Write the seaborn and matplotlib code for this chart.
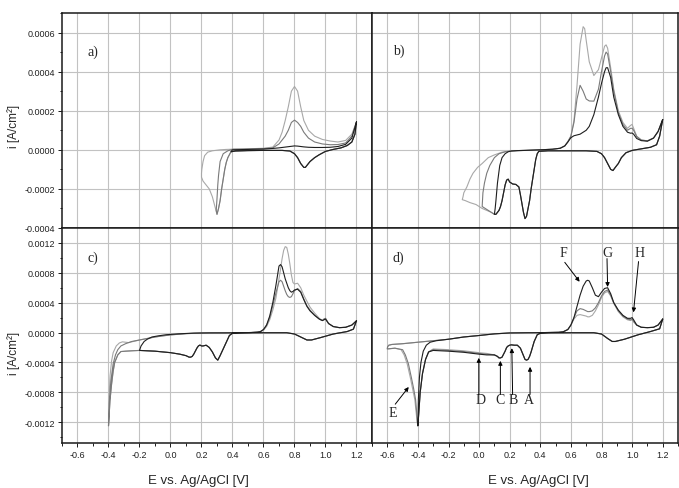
import matplotlib

matplotlib.use("Agg")
import matplotlib.pyplot as plt
import seaborn as sns
from matplotlib.ticker import FormatStrFormatter, MultipleLocator

# ---------------- panel a) ----------------
a_down_E = [1.20, 1.19, 1.17, 1.14, 1.10, 1.05, 1.00, 0.96, 0.93, 0.90, 0.88, 0.87, 0.86,
            0.84, 0.82, 0.80, 0.77, 0.72, 0.60, 0.50, 0.42, 0.39, 0.37, 0.36, 0.35, 0.34,
            0.33, 0.32, 0.31, 0.30]
a_down_i = [0.000143, 0.00008, 0.00004, 0.000022, 0.00001, 0.000002, -0.000008, -0.000025,
            -0.00004, -0.00006, -0.00008, -0.00009, -0.00009, -0.00007, -0.00004, -0.00002,
            -0.000006, -0.000003, -0.000003, -0.000004, -0.000006, -0.00001, -0.00004,
            -0.000064, -0.0001, -0.00015, -0.0002, -0.00026, -0.0003, -0.00033]
a_light_ret_E = [0.29, 0.28, 0.27, 0.25, 0.23, 0.21, 0.20, 0.20, 0.202, 0.21, 0.22, 0.24,
                 0.27, 0.32, 0.36]
a_light_ret_i = [-0.0003, -0.00027, -0.00024, -0.0002, -0.00018, -0.00016, -0.00014,
                 -0.00012, -0.0001, -0.00006, -0.00003, -0.000012, -0.000005, 0.0, 0.000002]
a_mid_ret_E = [0.295, 0.30, 0.305, 0.31, 0.32, 0.34, 0.37]
a_mid_ret_i = [-0.00031, -0.00025, -0.00018, -0.00013, -0.00006, -0.00002, -0.000005]
a_up_E = [0.40, 0.50, 0.60, 0.66, 0.70, 0.72, 0.74, 0.76, 0.78, 0.80, 0.82, 0.84, 0.86,
          0.89, 0.93, 0.98, 1.03, 1.08, 1.13, 1.17, 1.20]
a_light_up = [0.000003, 0.000005, 0.000008, 0.000014, 0.00005, 0.00009, 0.00015, 0.00022,
              0.0003, 0.000324, 0.0003, 0.00022, 0.00015, 0.0001, 0.00007, 0.000053,
              0.000045, 0.00004, 0.000048, 0.00008, 0.000143]
a_mid_up = [0.000003, 0.000004, 0.000006, 0.00001, 0.00003, 0.00005, 0.00007, 0.0001,
            0.00014, 0.000152, 0.00014, 0.00012, 0.00009, 0.00006, 0.00004, 0.00003,
            0.000026, 0.000027, 0.000035, 0.00007, 0.000143]
a_black_up = [0.0, 0.000002, 0.000004, 0.000007, 0.00001, 0.000012, 0.000014, 0.000016,
              0.000018, 0.00002, 0.000019, 0.000017, 0.000015, 0.000013, 0.000012,
              0.000012, 0.000013, 0.000017, 0.000028, 0.00006, 0.000143]
a_black_low = 0.39

# ---------------- panel b) ----------------
b_down_E = [1.20, 1.18, 1.16, 1.12, 1.06, 1.00, 0.96, 0.93, 0.91, 0.89, 0.875, 0.86, 0.84,
            0.82, 0.80, 0.77, 0.70, 0.55, 0.45, 0.39, 0.38, 0.37, 0.36, 0.35, 0.34, 0.33,
            0.32, 0.31, 0.30, 0.29, 0.28, 0.27, 0.26, 0.24, 0.22, 0.20, 0.19, 0.18, 0.17,
            0.16, 0.15, 0.14, 0.13, 0.12, 0.11]
b_down_i = [0.000155, 0.00007, 0.000026, 0.000013, 0.000005, -0.000003, -0.000015, -0.00004,
            -0.00007, -0.00009, -0.000106, -0.0001, -0.00007, -0.00004, -0.00002, -0.000008,
            -0.000005, -0.000005, -0.000005, -0.000008, -0.00002, -0.00005, -0.0001,
            -0.00015, -0.0002, -0.00026, -0.0003, -0.00034, -0.000352, -0.00032, -0.000275,
            -0.00023, -0.00019, -0.000177, -0.000175, -0.000165, -0.00015, -0.000155,
            -0.00018, -0.00022, -0.00026, -0.00029, -0.00031, -0.00032, -0.00033]
b_light_ret_E = [0.10, 0.08, 0.05, 0.02, -0.02, -0.06, -0.09, -0.11, -0.105, -0.10, -0.08,
                 -0.06, -0.04, -0.01, 0.02, 0.06, 0.10, 0.15, 0.20, 0.25]
b_light_ret_i = [-0.00033, -0.00032, -0.00031, -0.0003, -0.00028, -0.00027, -0.00026,
                 -0.000255, -0.00024, -0.00022, -0.00019, -0.00015, -0.00012, -0.00009,
                 -0.00007, -0.00004, -0.000026, -0.000012, -0.000006, -0.000004]
b_mid_ret_E = [0.10, 0.08, 0.06, 0.04, 0.02, 0.025, 0.035, 0.05, 0.07, 0.10, 0.13, 0.17,
               0.22, 0.26]
b_mid_ret_i = [-0.00033, -0.00032, -0.00031, -0.0003, -0.00029, -0.00022, -0.00017,
               -0.00012, -0.00008, -0.00004, -0.00002, -0.00001, -0.000006, -0.000004]
b_black_ret_E = [0.10, 0.105, 0.11, 0.12, 0.135, 0.15, 0.17, 0.19, 0.21, 0.25]
b_black_ret_i = [-0.00033, -0.0003, -0.00026, -0.00017, -0.00008, -0.00004, -0.00002,
                 -0.00001, -0.000006, -0.000004]
b_up_E = [0.30, 0.40, 0.48, 0.53, 0.56, 0.58, 0.60, 0.62, 0.64, 0.66, 0.68, 0.69, 0.70,
          0.72, 0.75, 0.78, 0.80, 0.82, 0.83, 0.84, 0.86, 0.88, 0.91, 0.94, 0.97, 0.99,
          1.00, 1.01, 1.03, 1.06, 1.10, 1.14, 1.17, 1.20]
b_light_up = [-0.000003, 0.0, 0.000003, 0.000008, 0.00002, 0.000043, 0.00007, 0.00015,
              0.00033, 0.00054, 0.00063, 0.00062, 0.00056, 0.00045, 0.00038, 0.00041,
              0.00047, 0.00053, 0.000537, 0.00052, 0.00042, 0.00031, 0.0002, 0.00014,
              0.00011, 0.000125, 0.00013, 0.00011, 0.00007, 0.00005, 0.000046, 0.00006,
              0.000094, 0.000155]
b_mid_up = [-0.000003, 0.0, 0.000003, 0.000008, 0.00002, 0.00004, 0.00007, 0.00014, 0.00026,
            0.00033, 0.0003, 0.00028, 0.00026, 0.00025, 0.000249, 0.00031, 0.0004, 0.00048,
            0.0005, 0.00049, 0.0004, 0.0003, 0.00019, 0.00013, 0.0001, 0.00011, 0.00011,
            0.0001, 0.000068, 0.00005, 0.000046, 0.00006, 0.000094, 0.000155]
b_black_up = [-0.000003, 0.0, 0.000003, 0.000008, 0.00002, 0.00004, 0.000062, 0.000072,
              0.000076, 0.00008, 0.00009, 0.000095, 0.0001, 0.00012, 0.00018, 0.00027,
              0.00034, 0.0004, 0.00042, 0.00042, 0.00037, 0.00027, 0.00018, 0.00012,
              0.00009, 0.000085, 0.000086, 0.00008, 0.000058, 0.000047, 0.000044, 0.00006,
              0.000094, 0.000155]

# ---------------- panel c) ----------------
c_down_E = [1.20, 1.18, 1.14, 1.05, 0.97, 0.91, 0.88, 0.85, 0.80, 0.75, 0.60, 0.45, 0.40,
            0.38, 0.36, 0.34, 0.32, 0.305, 0.29, 0.27, 0.25, 0.23, 0.21, 0.20, 0.19, 0.18,
            0.17, 0.16, 0.15, 0.14, 0.13, 0.12, 0.10, 0.06, 0.0, -0.1, -0.2]
c_down_i = [0.000157, 0.000045, 0.000013, -0.00002, -0.000067, -0.0001, -0.0001, -0.00007,
            -0.00002, -0.000003, -0.000003, -0.000005, -0.00001, -0.00004, -0.00013,
            -0.00022, -0.00031, -0.00037, -0.00034, -0.00026, -0.0002, -0.00017, -0.00018,
            -0.00018, -0.000168, -0.00018, -0.00021, -0.00025, -0.00029, -0.00032,
            -0.00033, -0.00033, -0.00031, -0.00029, -0.00027, -0.00025, -0.00024]
c_black_ret_E = [-0.2, -0.19, -0.17, -0.15, -0.12, -0.08, -0.03, 0.05, 0.15, 0.25, 0.32]
c_black_ret_i = [-0.00024, -0.00018, -0.00012, -0.00009, -0.00006, -0.000045, -0.00003,
                 -0.000018, -0.000008, -0.000005, -0.000005]
c_gray_down_E = [-0.25, -0.29, -0.32, -0.34, -0.36, -0.37, -0.38, -0.39, -0.40]
c_gray_down_i = [-0.000245, -0.00025, -0.000255, -0.0003, -0.0004, -0.00052, -0.00069,
                 -0.0009, -0.00125]
c_light_ret_E = [-0.397, -0.39, -0.38, -0.37, -0.35, -0.33, -0.31, -0.29, -0.27, -0.24,
                 -0.2, -0.15, -0.1, -0.05, 0.0, 0.1, 0.2, 0.32]
c_light_ret_i = [-0.0009, -0.00058, -0.00038, -0.00027, -0.00018, -0.00014, -0.000125,
                 -0.00013, -0.000135, -0.00012, -0.0001, -0.00008, -0.00006, -0.000045,
                 -0.000032, -0.000015, -0.000007, -0.000005]
c_mid_ret_E = [-0.395, -0.385, -0.37, -0.355, -0.34, -0.32, -0.29, -0.25, -0.2, -0.15,
               -0.1, -0.05, 0.0, 0.1, 0.2, 0.32]
c_mid_ret_i = [-0.00095, -0.00065, -0.00042, -0.0003, -0.00023, -0.00018, -0.00015,
               -0.00012, -0.0001, -0.00008, -0.00006, -0.000045, -0.000032, -0.000015,
               -0.000007, -0.000005]
c_up_E = [0.35, 0.45, 0.52, 0.56, 0.58, 0.60, 0.62, 0.64, 0.66, 0.68, 0.70, 0.71, 0.72,
          0.73, 0.74, 0.75, 0.76, 0.77, 0.78, 0.79, 0.80, 0.82, 0.84, 0.86, 0.88, 0.90,
          0.93, 0.96, 0.98, 0.99, 1.00, 1.02, 1.05, 1.09, 1.13, 1.17, 1.20]
c_light_up = [-0.000005, -0.000003, 0.0, 0.000005, 0.00001, 0.00003, 0.00008, 0.00017,
              0.0003, 0.00046, 0.00072, 0.00085, 0.00099, 0.0011, 0.00115, 0.00114,
              0.00105, 0.00092, 0.00077, 0.00067, 0.00065, 0.00066, 0.0006, 0.0005,
              0.00042, 0.00034, 0.00026, 0.00019, 0.00016, 0.00018, 0.00019, 0.00012,
              0.00008, 0.000065, 0.00007, 0.0001, 0.000157]
c_mid_up = [-0.000005, -0.000003, 0.0, 0.000005, 0.000012, 0.00004, 0.0001, 0.0002, 0.00036,
            0.00053, 0.00068, 0.0007, 0.00068, 0.00062, 0.00056, 0.00051, 0.00048, 0.00047,
            0.00048, 0.00052, 0.00056, 0.00059, 0.00055, 0.00045, 0.00036, 0.0003, 0.00023,
            0.00018, 0.00016, 0.00018, 0.00019, 0.00012, 0.00008, 0.000065, 0.00007,
            0.0001, 0.000157]
c_black_up = [-0.000005, -0.000003, 0.0, 0.000005, 0.000012, 0.00004, 0.0001, 0.00022,
              0.0004, 0.00063, 0.00089, 0.00091, 0.00088, 0.0008, 0.00072, 0.00066, 0.0006,
              0.00056, 0.00054, 0.00055, 0.00057, 0.00058, 0.00054, 0.00044, 0.00035,
              0.00029, 0.00023, 0.00018, 0.00016, 0.00017, 0.00018, 0.00012, 0.00008,
              0.000065, 0.00007, 0.0001, 0.000157]

# ---------------- panel d) ----------------
d_down_E = [1.20, 1.18, 1.12, 1.04, 0.95, 0.91, 0.89, 0.87, 0.84, 0.80, 0.75, 0.60, 0.45,
            0.40, 0.38, 0.36, 0.34, 0.33, 0.32, 0.31, 0.30, 0.29, 0.27, 0.25, 0.23, 0.21,
            0.20, 0.19, 0.18, 0.17, 0.16, 0.15, 0.14, 0.13, 0.12, 0.10]
d_down_i = [0.00018, 0.00005, 0.000013, -0.00003, -0.00009, -0.00011, -0.00012, -0.00012,
            -0.00008, -0.00002, -0.000003, -0.000003, -0.000005, -0.00001, -0.00003,
            -0.00012, -0.00026, -0.00032, -0.00036, -0.00037, -0.00036, -0.00031, -0.00021,
            -0.00017, -0.00017, -0.000165, -0.00017, -0.00018, -0.0002, -0.00025, -0.00029,
            -0.00033, -0.00034, -0.00034, -0.00032, -0.0003]
d_plat_E = [0.05, 0.0, -0.1, -0.2, -0.3]
d_plat_black = [-0.0003, -0.00029, -0.000265, -0.00025, -0.00024]
d_plat_mid = [-0.00029, -0.00028, -0.000255, -0.00024, -0.00023]
d_plat_light = [-0.00028, -0.00027, -0.000245, -0.00023, -0.00022]
d_spike_E = [-0.33, -0.35, -0.37, -0.385, -0.395, -0.40]
d_spike_i = [-0.00026, -0.00036, -0.00055, -0.0008, -0.0011, -0.00125]
d_black_ret_E = [-0.397, -0.39, -0.38, -0.365, -0.345, -0.32, -0.28, -0.2, -0.1, 0.0, 0.1,
                 0.2, 0.32]
d_black_ret_i = [-0.0009, -0.0006, -0.0004, -0.00025, -0.00017, -0.00013, -0.00011,
                 -0.00009, -0.00006, -0.00004, -0.000018, -0.000006, -0.000003]
d_light_flank_E = [-0.405, -0.41, -0.42, -0.435, -0.45, -0.47, -0.49, -0.51, -0.55, -0.60]
d_mid_flank_E = [-0.403, -0.407, -0.415, -0.428, -0.443, -0.462, -0.482, -0.50, -0.55, -0.60]
d_flank_i = [-0.0012, -0.0011, -0.0009, -0.00075, -0.0006, -0.00042, -0.0003, -0.00023,
             -0.00021, -0.00022]
d_gray_ret_E = [-0.598, -0.59, -0.57, -0.5, -0.4, -0.3, -0.2, -0.1, 0.0, 0.1, 0.2, 0.32]
d_gray_ret_i = [-0.00019, -0.00017, -0.00016, -0.00015, -0.00013, -0.00011, -0.00009,
                -0.00006, -0.00004, -0.000018, -0.000006, -0.000003]
d_up_E = [0.35, 0.45, 0.52, 0.55, 0.58, 0.60, 0.62, 0.64, 0.66, 0.68, 0.70, 0.71, 0.72,
          0.74, 0.76, 0.78, 0.80, 0.82, 0.84, 0.86, 0.88, 0.91, 0.94, 0.97, 0.99, 1.00,
          1.01, 1.03, 1.06, 1.10, 1.14, 1.17, 1.20]
d_black_up = [-0.000003, 0.0, 0.000003, 0.00001, 0.00004, 0.0001, 0.0002, 0.00035, 0.0005,
              0.00062, 0.00069, 0.0007, 0.00069, 0.0006, 0.0005, 0.00048, 0.00054, 0.00059,
              0.0006, 0.00052, 0.0004, 0.0003, 0.00023, 0.00019, 0.00019, 0.0002, 0.00017,
              0.0001, 0.00007, 0.000065, 0.00007, 0.0001, 0.00018]
d_mid_up = [-0.000003, 0.0, 0.000003, 0.00001, 0.00004, 0.0001, 0.0002, 0.00029, 0.00032,
            0.00031, 0.00029, 0.00028, 0.00028, 0.00029, 0.00033, 0.0004, 0.00049, 0.00055,
            0.00057, 0.0005, 0.0004, 0.00029, 0.00022, 0.00018, 0.00017, 0.00018, 0.00015,
            0.0001, 0.00007, 0.000065, 0.00007, 0.0001, 0.00018]
d_light_up = [-0.000003, 0.0, 0.000003, 0.00001, 0.00004, 0.0001, 0.00018, 0.00023, 0.00024,
              0.00023, 0.00022, 0.00021, 0.00021, 0.00023, 0.00029, 0.00037, 0.00047,
              0.00053, 0.00055, 0.00049, 0.00039, 0.00028, 0.00021, 0.00017, 0.00016,
              0.00017, 0.00014, 0.0001, 0.00007, 0.000065, 0.00007, 0.0001, 0.00018]

# letters + arrows in d): (label, text E, text i, arrow tip E, arrow tip i, tail E, tail i)
d_marks = [
    ("F", 0.549, 0.00107, 0.657, 0.00068, 0.56, 0.00094),
    ("G", 0.836, 0.00107, 0.840, 0.00061, 0.836, 0.00099),
    ("H", 1.046, 0.00107, 1.009, 0.00027, 1.042, 0.00095),
    ("A", 0.327, -0.00090, 0.333, -0.00046, 0.333, -0.00083),
    ("B", 0.225, -0.00090, 0.214, -0.00021, 0.219, -0.00083),
    ("C", 0.139, -0.00090, 0.139, -0.00038, 0.139, -0.00083),
    ("D", 0.009, -0.00090, -0.002, -0.00034, -0.002, -0.00083),
    ("E", -0.563, -0.00107, -0.46, -0.00073, -0.548, -0.00096),
]

LIGHT = "#a8a8a8"
MID = "#7a7a7a"
BLACK = "#1e1e1e"
LW = 0.8


def join(*parts):
    xs, ys = [], []
    for e, i in parts:
        xs += list(e)
        ys += list(i)
    return xs, ys


def draw(ax, loops):
    for (xs, ys), col in loops:
        sns.lineplot(x=xs, y=ys, sort=False, estimator=None, color=col, lw=LW, ax=ax)


sns.set_style("whitegrid")
plt.rcParams["font.family"] = ["Liberation Sans", "DejaVu Sans"]
plt.rcParams["axes.unicode_minus"] = False

fig = plt.figure(figsize=(6.79, 4.89), dpi=100)
W, H = 679, 489
ax_a = fig.add_axes([62 / W, 1 - 229 / H, 310 / W, 215 / H])
ax_b = fig.add_axes([372 / W, 1 - 229 / H, 306 / W, 215 / H])
ax_c = fig.add_axes([62 / W, 1 - 444 / H, 310 / W, 215 / H])
ax_d = fig.add_axes([372 / W, 1 - 444 / H, 306 / W, 215 / H])

# a)
a_bl = [k for k, e in enumerate(a_down_E) if e >= a_black_low]
draw(ax_a, [
    (join((a_down_E, a_down_i), (a_light_ret_E, a_light_ret_i), (a_up_E, a_light_up)), LIGHT),
    (join((a_down_E, a_down_i), (a_mid_ret_E, a_mid_ret_i), (a_up_E, a_mid_up)), MID),
    (join(([a_down_E[k] for k in a_bl], [a_down_i[k] for k in a_bl]), (a_up_E, a_black_up)), BLACK),
])
# b)
draw(ax_b, [
    (join((b_down_E, b_down_i), (b_light_ret_E, b_light_ret_i), (b_up_E, b_light_up)), LIGHT),
    (join((b_down_E, b_down_i), (b_mid_ret_E, b_mid_ret_i), (b_up_E, b_mid_up)), MID),
    (join((b_down_E, b_down_i), (b_black_ret_E, b_black_ret_i), (b_up_E, b_black_up)), BLACK),
])
# c)
draw(ax_c, [
    (join((c_down_E, c_down_i), (c_gray_down_E, c_gray_down_i), (c_light_ret_E, c_light_ret_i),
          (c_up_E, c_light_up)), LIGHT),
    (join((c_down_E, c_down_i), (c_gray_down_E, c_gray_down_i), (c_mid_ret_E, c_mid_ret_i),
          (c_up_E, c_mid_up)), MID),
    (join((c_down_E, c_down_i), (c_black_ret_E, c_black_ret_i), (c_up_E, c_black_up)), BLACK),
])
# d)
draw(ax_d, [
    (join((d_down_E, d_down_i), (d_plat_E, d_plat_light), (d_spike_E, d_spike_i),
          (d_light_flank_E, d_flank_i), (d_gray_ret_E, d_gray_ret_i), (d_up_E, d_light_up)), LIGHT),
    (join((d_down_E, d_down_i), (d_plat_E, d_plat_mid), (d_spike_E, d_spike_i),
          (d_mid_flank_E, d_flank_i), (d_gray_ret_E, d_gray_ret_i), (d_up_E, d_mid_up)), MID),
    (join((d_down_E, d_down_i), (d_plat_E, d_plat_black), (d_spike_E, d_spike_i),
          (d_black_ret_E, d_black_ret_i), (d_up_E, d_black_up)), BLACK),
])

for name, te, ti, he, hi, se, si in d_marks:
    ax_d.text(te, ti, name, family="Liberation Serif", fontsize=10, ha="center", va="center")
    ax_d.annotate("", xy=(he, hi), xytext=(se, si),
                  arrowprops=dict(arrowstyle="-|>", lw=0.7, color="k", mutation_scale=6,
                                  shrinkA=0, shrinkB=0))

for ax, lab, lx, ly in [(ax_a, "a)", 0.081, 0.821), (ax_b, "b)", 0.069, 0.826),
                        (ax_c, "c)", 0.081, 0.865), (ax_d, "d)", 0.068, 0.865)]:
    ax.text(lx, ly, lab, transform=ax.transAxes, family="Liberation Serif", fontsize=10,
            ha="left", va="center")

for ax, top in [(ax_a, True), (ax_b, True), (ax_c, False), (ax_d, False)]:
    ax.set_xlim(-0.7, 1.3)
    if top:
        ax.set_ylim(-0.0004, 0.0007)
        ax.yaxis.set_major_locator(MultipleLocator(0.0002))
        ax.yaxis.set_minor_locator(MultipleLocator(0.0001))
    else:
        ax.set_ylim(-0.00148, 0.0014)
        ax.yaxis.set_major_locator(MultipleLocator(0.0004))
        ax.yaxis.set_minor_locator(MultipleLocator(0.0002))
    ax.set_xticks([-0.6, -0.4, -0.2, 0.0, 0.2, 0.4, 0.6, 0.8, 1.0, 1.2])
    ax.xaxis.set_minor_locator(MultipleLocator(0.1))
    ax.xaxis.set_major_formatter(FormatStrFormatter("%.1f"))
    ax.yaxis.set_major_formatter(FormatStrFormatter("%.4f"))
    ax.grid(True, which="major", color="#c2c2c2", lw=0.8)
    ax.grid(False, which="minor")
    ax.set_axisbelow(True)
    ax.set_xlabel("")
    ax.set_ylabel("")
    for s in ax.spines.values():
        s.set_color("#1a1a1a")
        s.set_linewidth(1.1)
    ax.tick_params(which="both", direction="out", colors="#1a1a1a", labelsize=6.5,
                   labelcolor="#222222", width=0.7, pad=2)
    ax.tick_params(which="major", length=3)
    ax.tick_params(which="minor", length=1.8)
    if top:
        ax.tick_params(axis="x", which="both", bottom=False, labelbottom=False)
    else:
        ax.tick_params(axis="x", which="both", bottom=True)
    if ax in (ax_b, ax_d):
        ax.tick_params(axis="y", which="both", left=False, labelleft=False)
    else:
        ax.tick_params(axis="y", which="both", left=True)

fig.text(14 / W, 1 - 126 / H, "i [A/cm²]", rotation=90, ha="center", va="center", fontsize=8.5)
fig.text(14 / W, 1 - 353 / H, "i [A/cm²]", rotation=90, ha="center", va="center", fontsize=8.5)
fig.text(198 / W, 1 - 481 / H, "E vs. Ag/AgCl [V]", ha="center", va="center", fontsize=9.5)
fig.text(538 / W, 1 - 481 / H, "E vs. Ag/AgCl [V]", ha="center", va="center", fontsize=9.5)

fig.savefig("out.png", dpi=100)
